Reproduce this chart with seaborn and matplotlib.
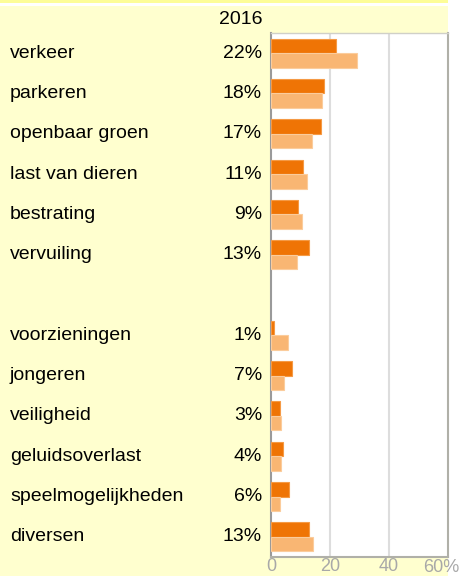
import numpy as np
import pandas as pd
import matplotlib
matplotlib.use("Agg")
import matplotlib.pyplot as plt
import matplotlib.patches as mpatches
import seaborn as sns

categories = ["verkeer", "parkeren", "openbaar groen", "last van dieren", "bestrating",
              "vervuiling", " ", "voorzieningen", "jongeren", "veiligheid",
              "geluidsoverlast", "speelmogelijkheden", "diversen"]
values_2016 = [22, 18, 17, 11, 9, 13, np.nan, 1, 7, 3, 4, 6, 13]
values_prev = [29.2, 17.2, 13.9, 12.3, 10.6, 8.9, np.nan, 5.6, 4.5, 3.5, 3.5, 2.9, 14.3]
series_names = ["2016", "vorige meting"]
x_ticks = [0, 20, 40, 60]
x_ticklabels = ["0", "20", "40", "60%"]
header = "2016"

sns.set_theme(style="white")
plt.rcParams['font.family'] = ['Liberation Sans', 'DejaVu Sans']

W, H = 460, 576
fig = plt.figure(figsize=(W / 100, H / 100), dpi=100)
fig.patch.set_facecolor("white")

# background panels
fig.add_artist(mpatches.Rectangle((0, 0), 448 / W, (H - 6) / H, transform=fig.transFigure,
                                  facecolor="#ffffcf", edgecolor="none", zorder=-10))
fig.add_artist(mpatches.Rectangle((0, (H - 3) / H), 448 / W, 3 / H, transform=fig.transFigure,
                                  facecolor="#fdfd98", edgecolor="none", zorder=-10))

left, right, top, bottom = 271, 448, 33, 557
ax = fig.add_axes([left / W, 1 - bottom / H, (right - left) / W, (bottom - top) / H])
ax.set_facecolor("white")

rows = []
for c, a, b in zip(categories, values_2016, values_prev):
    rows.append({"cat": c, "serie": series_names[0], "val": a})
    rows.append({"cat": c, "serie": series_names[1], "val": b})
df = pd.DataFrame(rows)

sns.barplot(data=df, y="cat", x="val", hue="serie", order=categories,
            hue_order=series_names, palette=["#ef7405", "#f9b673"], saturation=1,
            orient="h", width=0.72, gap=0, ax=ax, legend=False, zorder=3)

edge_cols = {0: "#f59a45", 1: "#fbcc9c"}
for i, cont in enumerate(ax.containers):
    for p in cont:
        p.set_edgecolor(edge_cols[i])
        p.set_linewidth(0.8)

ax.set_xlim(0, 60)
ax.set_ylim(len(categories) - 0.5, -0.5)
ax.set_xticks(x_ticks)
ax.set_xticklabels(x_ticklabels[:-1] + [""], color="#a8a8a8", fontsize=13)
ax.tick_params(axis="x", length=0, pad=1)
ax.set_yticks([])
ax.set_xlabel("")
ax.set_ylabel("")
for x in x_ticks[1:-1]:
    ax.axvline(x, color="#dddddd", lw=1.5, zorder=1)

# last tick label, shifted so it stays inside the picture
fig.text(459 / W, 1 - 567 / H, x_ticklabels[-1], ha="right", va="center",
         fontsize=13, color="#a8a8a8")

ax.spines["left"].set_color("#9a9a9a")
ax.spines["left"].set_linewidth(1.5)
ax.spines["right"].set_color("#b0b0a8")
ax.spines["right"].set_linewidth(1.5)
ax.spines["top"].set_color("#d0d0c8")
ax.spines["top"].set_linewidth(1.0)
ax.spines["bottom"].set_color("#b0b0a8")
ax.spines["bottom"].set_linewidth(1.5)

tr = ax.get_yaxis_transform()
lab_x = (10 - left) / (right - left)
pct_x = (262 - left) / (right - left)
for i, (c, v) in enumerate(zip(categories, values_2016)):
    if np.isnan(v):
        continue
    ax.text(lab_x, i, c, transform=tr, ha="left", va="center", fontsize=14, color="black", clip_on=False)
    ax.text(pct_x, i, f"{v:.0f}%", transform=tr, ha="right", va="center", fontsize=14, color="black", clip_on=False)

fig.text(262 / W, 1 - 20 / H, header, ha="right", va="center", fontsize=14, color="black")

fig.savefig("out.png", dpi=100, facecolor=fig.get_facecolor())
